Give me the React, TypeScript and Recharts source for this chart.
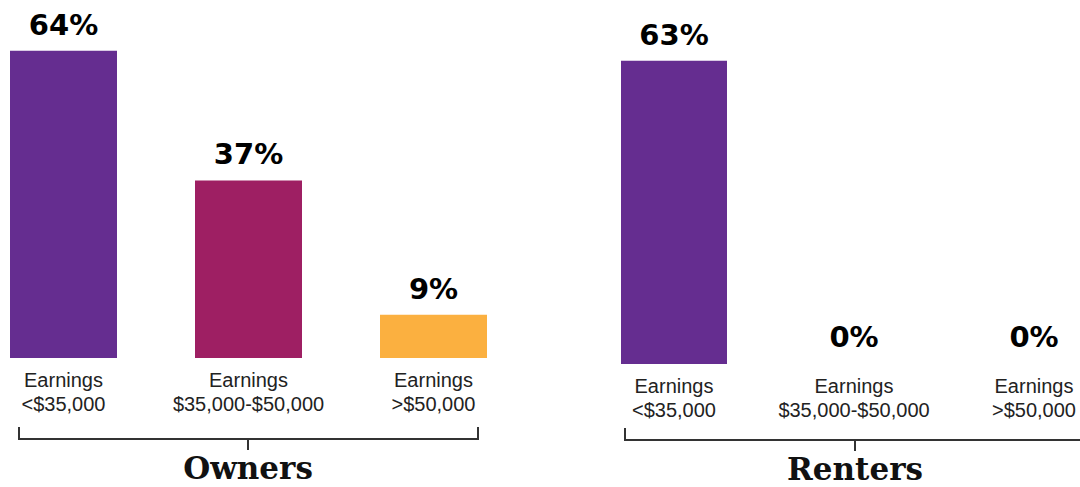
import { BarChart, Bar, XAxis, YAxis, Cell, LabelList } from 'recharts';

const categories = ['<$35,000', '$35,000-$50,000', '>$50,000'];
const ownersValues = [64, 37, 9];
const rentersValues = [63, 0, 0];
const groupTitles = ['Owners', 'Renters'];

const COLORS = ['#652d90', '#9e1f63', '#fbb040'];

const ownersData = categories.map((c, i) => ({ name: c, value: ownersValues[i] }));
const rentersData = categories.map((c, i) => ({ name: c, value: rentersValues[i] }));

const EarningsTick = ({ x, y, payload }: any) => (
  <text
    x={x}
    y={y}
    textAnchor="middle"
    fill="#222"
    style={{ fontFamily: '"Liberation Sans", Arial, sans-serif', fontSize: 20 }}
  >
    <tspan x={x} dy={21}>Earnings</tspan>
    <tspan x={x} dy={24}>{payload.value}</tspan>
  </text>
);

// label drawn by hand so zero-height bars still get their "0%"
const PctLabel = ({ x, y, width, value }: any) => (
  <text
    x={Number(x) + Number(width) / 2}
    y={Number(y) - 16}
    textAnchor="middle"
    fill="#000"
    style={{ fontFamily: '"DejaVu Sans", sans-serif', fontWeight: 700, fontSize: 29 }}
  >
    {`${value}%`}
  </text>
);

interface PanelProps {
  data: { name: string; value: number }[];
  left: number;
  width: number;
  top: number;
  axisHeight: number;
  barSize: number;
}

function Panel({ data, left, width, top, axisHeight, barSize }: PanelProps) {
  return (
    <div style={{ position: 'absolute', left, top: 0 }}>
      <BarChart
        width={width}
        height={487}
        data={data}
        margin={{ top, right: 0, bottom: 0, left: 0 }}
        barSize={barSize}
      >
        <XAxis
          dataKey="name"
          axisLine={false}
          tickLine={false}
          height={axisHeight}
          interval={0}
          tick={<EarningsTick />}
        />
        <YAxis hide domain={[0, 70]} />
        <Bar dataKey="value" isAnimationActive={false} minPointSize={1}>
          {data.map((d, i) => (
            <Cell
              key={`cell-${i}`}
              fill={COLORS[i % COLORS.length]}
              fillOpacity={d.value === 0 ? 0 : 1}
            />
          ))}
          <LabelList dataKey="value" content={<PctLabel />} />
        </Bar>
      </BarChart>
    </div>
  );
}

const Bracket = ({ x1, x2, mid, y, title }: any) => (
  <g>
    <path
      d={`M${x1},${y - 12} V${y} H${x2} V${y - 12} M${mid},${y} V${y + 11}`}
      stroke="#333"
      strokeWidth={2}
      fill="none"
    />
    <text
      x={mid}
      y={y + 40}
      textAnchor="middle"
      fill="#111"
      style={{ fontFamily: '"DejaVu Serif", serif', fontWeight: 700, fontSize: 31 }}
    >
      {title}
    </text>
  </g>
);

export default function App() {
  return (
    <div
      style={{
        position: 'absolute',
        left: 0,
        top: 0,
        width: 1080,
        height: 487,
        overflow: 'hidden',
        background: '#fff',
      }}
    >
      <Panel data={ownersData} left={-29} width={555} top={22} axisHeight={129} barSize={107} />
      <Panel data={rentersData} left={584} width={540} top={27} axisHeight={123} barSize={106} />
      <svg width={1080} height={487} style={{ position: 'absolute', left: 0, top: 0, pointerEvents: 'none' }}>
        <Bracket x1={19} x2={478} mid={248} y={439} title={groupTitles[0]} />
        <Bracket x1={625} x2={1100} mid={855} y={440} title={groupTitles[1]} />
      </svg>
    </div>
  );
}
